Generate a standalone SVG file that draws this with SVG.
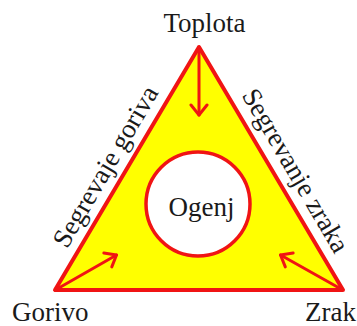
<svg xmlns="http://www.w3.org/2000/svg" width="357" height="326" viewBox="0 0 357 326">
<style>
.lbl{font-family:"Liberation Serif","Times New Roman",serif;font-size:27px;fill:#1a1a1a}
.edge{stroke:#f01414;stroke-width:3;fill:none;stroke-linecap:round}
</style>
<defs>
<marker id="ah" markerUnits="userSpaceOnUse" markerWidth="24" markerHeight="24" viewBox="-12 -12 24 24" refX="0" refY="0" orient="auto">
<path d="M-10,-8 L0,0 L-10,8" fill="none" stroke="#f01414" stroke-width="3" stroke-linecap="round" stroke-linejoin="round"/>
</marker>
</defs>
<rect width="357" height="326" fill="#ffffff"/>
<g id="triangle">
<polygon points="199,47 55,290 343,290" fill="#ffff00" stroke="#f01414" stroke-width="4" stroke-linejoin="round"/>
</g>
<g id="ogenj">
<circle cx="198" cy="204" r="52" fill="#ffffff" stroke="#f01414" stroke-width="3.5"/>
<text class="lbl" x="201.5" y="216" text-anchor="middle">Ogenj</text>
</g>
<g id="toplota"><text class="lbl" x="204.5" y="32" text-anchor="middle">Toplota</text></g>
<g id="gorivo"><text class="lbl" x="12" y="321">Gorivo</text></g>
<g id="zrak"><text class="lbl" x="356" y="321" text-anchor="end">Zrak</text></g>
<g id="segrevanje-goriva"><text class="lbl" x="0" y="0" text-anchor="middle" transform="translate(113,171) rotate(-59.6)">Segrevaje goriva</text></g>
<g id="segrevanje-zraka"><text class="lbl" x="0" y="0" text-anchor="middle" transform="translate(288,175) rotate(59.6)">Segrevanje zraka</text></g>
<g id="connectors">
<line class="edge" x1="199" y1="49" x2="199" y2="115" marker-end="url(#ah)"/>
<line class="edge" x1="57" y1="289" x2="116.5" y2="255" marker-end="url(#ah)"/>
<line class="edge" x1="341" y1="289" x2="280.5" y2="255" marker-end="url(#ah)"/>
</g>
</svg>
